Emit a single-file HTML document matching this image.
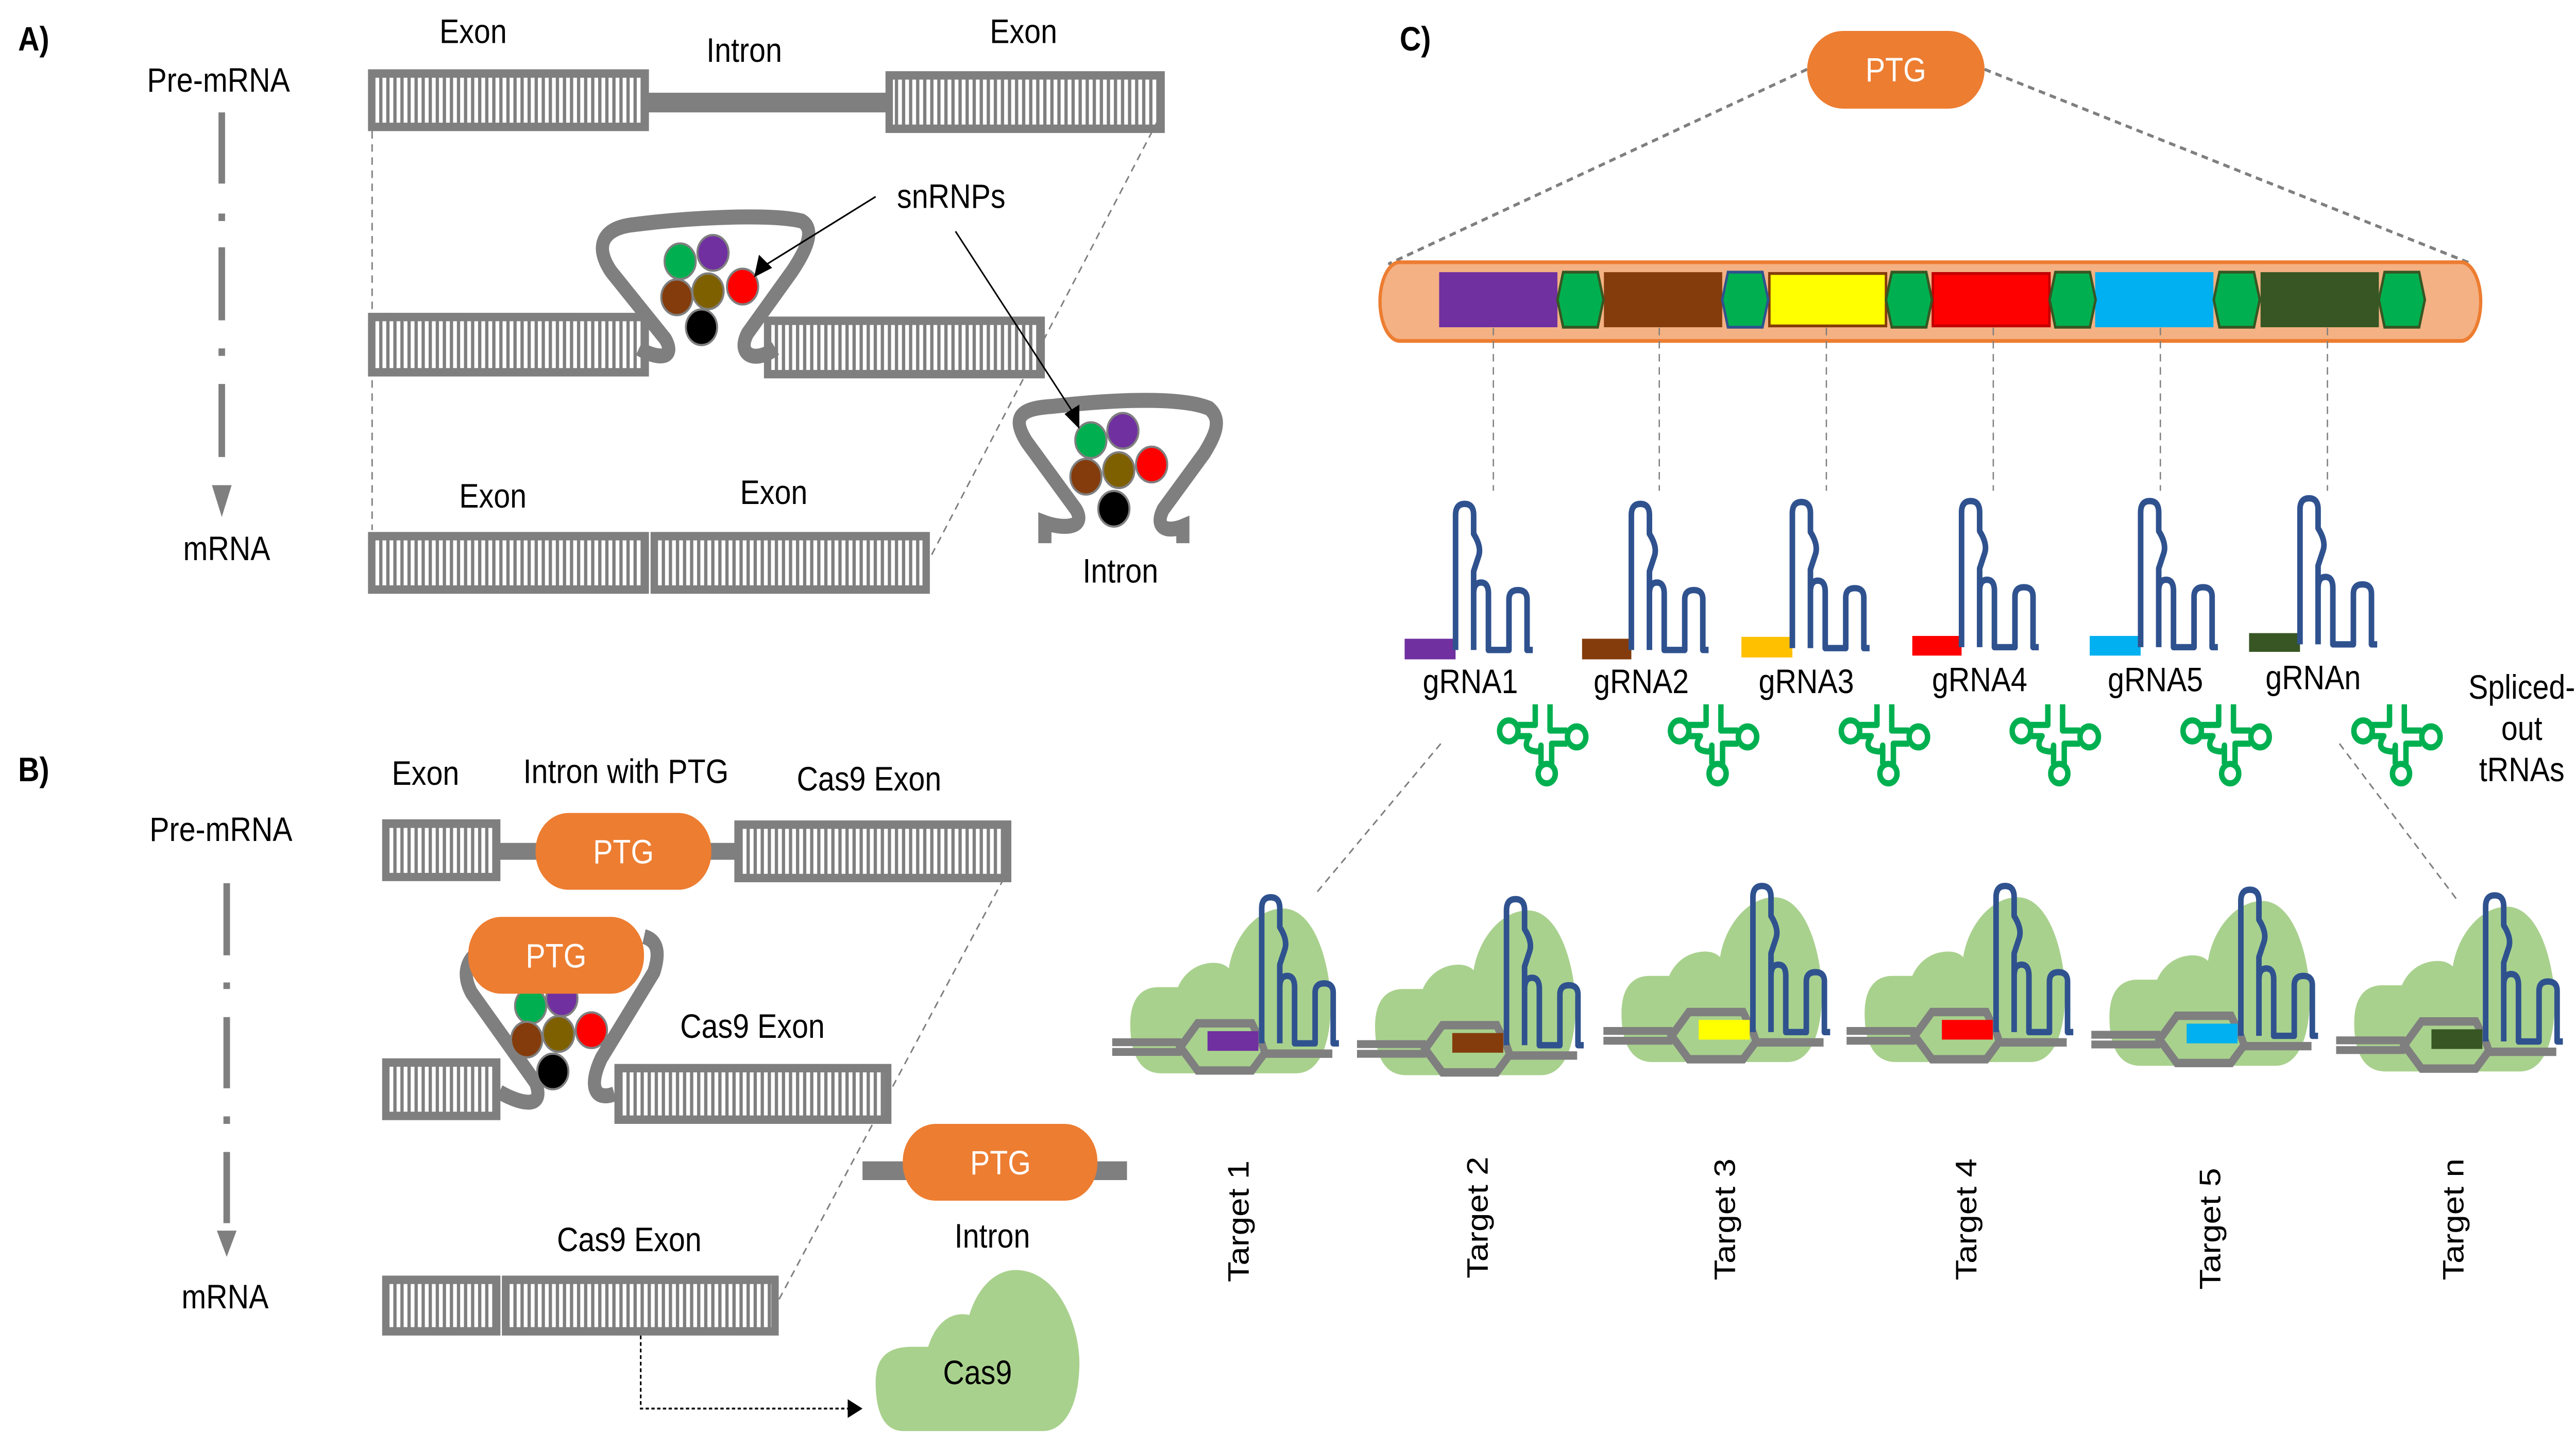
<!DOCTYPE html>
<html><head><meta charset="utf-8"><style>
html,body{margin:0;padding:0;background:#fff;width:100%;height:100%;overflow:hidden;}
svg{display:block;position:absolute;left:0;top:0;width:100vw;height:100vh;}
text{font-family:"Liberation Sans",Arial,sans-serif;}
</style></head><body>
<svg xmlns="http://www.w3.org/2000/svg" viewBox="0 0 1568 772.5" preserveAspectRatio="none">
<defs>
<pattern id="st" patternUnits="userSpaceOnUse" width="4.3" height="10"><rect width="4.3" height="10" fill="#7f7f7f"/><rect x="0.6" width="2.3" height="10" fill="#fff"/></pattern>
<g id="grna"><path d="M0,0 V-72 Q0,-78 5.5,-78 Q11,-78 11,-72 V-62 Q16,-55 14,-50 L11,-42 V0 M11,0 V-30 Q11,-36 15.5,-36 Q20,-36 20,-30 V0 H32.5 V-27 Q32.5,-32 38,-32 Q43.5,-32 43.5,-27 V0 H47" fill="none" stroke="#2f528f" stroke-width="3.4" stroke-linejoin="round"/></g>
<g id="cx">
<path d="M30,88 C15,88 11,75 11,62 C11,48 18,42 28,42 L40,42 C44,34 52,29 62,29 C67,29 70,31 71,32 C74,15 88,0 104,0 C125,0 134,35 133,55 C132,75 125,88 112,88 Z" fill="#a9d18e"/>
<line x1="0" y1="71.4" x2="42" y2="71.4" stroke="#7f7f7f" stroke-width="4.2"/>
<line x1="0" y1="76.6" x2="42" y2="76.6" stroke="#7f7f7f" stroke-width="4.2"/>
<polygon points="41.5,74 52,61.3 85,61.3 91,72 93,77 85,86.5 52,86.5" fill="none" stroke="#7f7f7f" stroke-width="4.5"/>
<line x1="92" y1="77.5" x2="134" y2="77.5" stroke="#7f7f7f" stroke-width="4.5"/>
</g>
<g id="trna" fill="none" stroke="#00b050" stroke-width="3.3" stroke-linejoin="round">
<path d="M-5.5,-22 V-11 H-16 M-16,-5 H-9 Q-14,2 -6,3 Q-2,4 -2,0 V10 M3.5,-22 V-8 H14 M14,-1 H4.5 V10"/>
<circle cx="-21.6" cy="-7.8" r="5.6"/><circle cx="19.7" cy="-4.6" r="5.6"/><circle cx="1.5" cy="15" r="5.2"/>
</g>
<g id="hx"><polygon points="0,14.7 3.5,0 24.5,0 28,14.7 24.5,29.4 3.5,29.4" fill="#00b050" stroke="#375623" stroke-width="1.5"/></g>
</defs>

<!-- ============ PANEL A ============ -->
<g font-size="18" text-anchor="middle" fill="#000">
<text x="11" y="27" font-weight="bold" text-anchor="start">A)</text>
<text x="288" y="23">Exon</text>
<text x="453" y="33">Intron</text>
<text x="623" y="23">Exon</text>
<text x="133" y="49">Pre-mRNA</text>
<text x="579" y="111">snRNPs</text>
<text x="300" y="271">Exon</text>
<text x="471" y="269">Exon</text>
<text x="138" y="299">mRNA</text>
<text x="682" y="311">Intron</text>
</g>
<g stroke="#7f7f7f" stroke-width="4">
<line x1="135" y1="60" x2="135" y2="98"/><line x1="135" y1="114" x2="135" y2="118"/>
<line x1="135" y1="132" x2="135" y2="171"/><line x1="135" y1="186" x2="135" y2="190"/>
<line x1="135" y1="205" x2="135" y2="244"/>
</g>
<polygon points="129,259 141,259 135,276" fill="#7f7f7f"/>
<rect x="390" y="49.5" width="152" height="10.5" fill="#7f7f7f"/>
<rect x="224" y="37" width="171" height="33" fill="#7f7f7f"/><rect x="228.5" y="41.5" width="162" height="24" fill="url(#st)"/>
<rect x="539" y="38" width="170" height="33" fill="#7f7f7f"/><rect x="543.5" y="42.5" width="161" height="24" fill="url(#st)"/>
<g stroke="#7f7f7f" stroke-width="0.9" stroke-dasharray="4 3" fill="none">
<line x1="226.5" y1="70" x2="226.5" y2="283"/>
<line x1="705" y1="64" x2="566" y2="298"/>
</g>
<rect x="224" y="167" width="171" height="34" fill="#7f7f7f"/><rect x="228.5" y="171.5" width="162" height="25" fill="url(#st)"/>
<rect x="465" y="169" width="171" height="33" fill="#7f7f7f"/><rect x="469.5" y="173.5" width="162" height="24" fill="url(#st)"/>
<path d="M389,186 C400,192 412,192 405,181 L372,145 C362,132 366,122 385,120 C420,116 470,114 488,118 C496,122 492,132 482,145 L455,178 C448,190 460,194 472,186" fill="none" stroke="#7f7f7f" stroke-width="8"/>
<g stroke="#7f7f7f" stroke-width="1.2">
<ellipse cx="434" cy="135" rx="9.5" ry="9.5" fill="#7030a0"/>
<ellipse cx="414" cy="139.5" rx="9.5" ry="9.5" fill="#00b050"/>
<ellipse cx="452" cy="153" rx="9.5" ry="9.5" fill="#ff0000"/>
<ellipse cx="412" cy="158.7" rx="9.5" ry="9.5" fill="#843c0c"/>
<ellipse cx="431" cy="155.5" rx="9.5" ry="9.5" fill="#7f6000"/>
<ellipse cx="427" cy="174.7" rx="9.5" ry="9.5" fill="#000"/>
</g>
<rect x="224" y="284" width="171" height="33" fill="#7f7f7f"/><rect x="228.5" y="288.5" width="162" height="24" fill="url(#st)"/>
<rect x="396" y="284" width="170" height="33" fill="#7f7f7f"/><rect x="400.5" y="288.5" width="161" height="24" fill="url(#st)"/>
<path d="M636,290 L636,279 C645,282 662,283 655,272 L625,236 C615,222 622,218 640,217 C680,213 720,212 736,218 C744,224 740,232 733,242 L708,272 C702,283 712,284 720,281 L720,290" fill="none" stroke="#7f7f7f" stroke-width="8"/>
<g stroke="#7f7f7f" stroke-width="1.2">
<ellipse cx="683.5" cy="230" rx="9.5" ry="9.5" fill="#7030a0"/>
<ellipse cx="664" cy="235" rx="9.5" ry="9.5" fill="#00b050"/>
<ellipse cx="701" cy="248" rx="9.5" ry="9.5" fill="#ff0000"/>
<ellipse cx="661" cy="254.5" rx="9.5" ry="9.5" fill="#843c0c"/>
<ellipse cx="681" cy="251" rx="9.5" ry="9.5" fill="#7f6000"/>
<ellipse cx="678" cy="271.6" rx="9.5" ry="9.5" fill="#000"/>
</g>
<line x1="533" y1="105" x2="465" y2="142" stroke="#000" stroke-width="0.9"/>
<polygon points="459,148 462,136 470,143" fill="#000"/>
<line x1="581.6" y1="123.5" x2="653" y2="220" stroke="#000" stroke-width="0.9"/>
<polygon points="657,229 648,221 657,216" fill="#000"/>

<!-- ============ PANEL B ============ -->
<g font-size="18" text-anchor="middle" fill="#000">
<text x="11" y="417" font-weight="bold" text-anchor="start">B)</text>
<text x="259" y="419">Exon</text>
<text x="381" y="418">Intron with PTG</text>
<text x="529" y="422">Cas9 Exon</text>
<text x="134.5" y="449">Pre-mRNA</text>
<text x="458" y="554">Cas9 Exon</text>
<text x="604" y="666">Intron</text>
<text x="383" y="668">Cas9 Exon</text>
<text x="137" y="698.5">mRNA</text>
</g>
<g stroke="#7f7f7f" stroke-width="4">
<line x1="138" y1="471.5" x2="138" y2="510"/><line x1="138" y1="524.5" x2="138" y2="528"/>
<line x1="138" y1="543" x2="138" y2="581"/><line x1="138" y1="596" x2="138" y2="600"/>
<line x1="138" y1="615" x2="138" y2="653"/>
</g>
<polygon points="132,657 144,657 138,671" fill="#7f7f7f"/>
<rect x="300" y="450" width="150" height="9" fill="#7f7f7f"/>
<rect x="232.6" y="437.4" width="72" height="33" fill="#7f7f7f"/><rect x="237" y="442" width="63" height="24" fill="url(#st)"/>
<rect x="447" y="438" width="168.6" height="33" fill="#7f7f7f"/><rect x="451.5" y="442.5" width="159.6" height="24" fill="url(#st)"/>
<rect x="326" y="434" width="107" height="41" rx="20" ry="20" fill="#ed7d31"/>
<text x="379.5" y="461" font-size="18" fill="#fff" text-anchor="middle">PTG</text>
<line x1="611" y1="469" x2="474" y2="694" stroke="#7f7f7f" stroke-width="0.9" stroke-dasharray="4 3"/>
<rect x="232.6" y="565" width="72" height="33" fill="#7f7f7f"/><rect x="237" y="569.5" width="63" height="24" fill="url(#st)"/>
<rect x="374" y="568" width="168.6" height="32" fill="#7f7f7f"/><rect x="378.5" y="572.5" width="159.6" height="23" fill="url(#st)"/>
<path d="M304,583 C318,590 332,592 326,578 L287,530 C281,520 284,512 292,508" fill="none" stroke="#7f7f7f" stroke-width="8"/>
<path d="M374,584 C362,588 358,580 366,565 L398,519 C402,508 400,502 392,500" fill="none" stroke="#7f7f7f" stroke-width="8"/>
<g stroke="#7f7f7f" stroke-width="1.2">
<ellipse cx="342" cy="533" rx="9.5" ry="9.5" fill="#7030a0"/>
<ellipse cx="323" cy="537" rx="9.5" ry="9.5" fill="#00b050"/>
<ellipse cx="360" cy="550" rx="9.5" ry="9.5" fill="#ff0000"/>
<ellipse cx="320.6" cy="555" rx="9.5" ry="9.5" fill="#843c0c"/>
<ellipse cx="340" cy="552" rx="9.5" ry="9.5" fill="#7f6000"/>
<ellipse cx="336.5" cy="572" rx="9.5" ry="9.5" fill="#000"/>
</g>
<rect x="285" y="489.5" width="107" height="41" rx="20" ry="20" fill="#ed7d31"/>
<text x="338.5" y="516.5" font-size="18" fill="#fff" text-anchor="middle">PTG</text>
<rect x="525" y="620" width="161" height="10" fill="#7f7f7f"/>
<rect x="549.5" y="600" width="118.5" height="41" rx="20" ry="20" fill="#ed7d31"/>
<text x="609" y="627" font-size="18" fill="#fff" text-anchor="middle">PTG</text>
<rect x="232.6" y="681" width="72" height="32" fill="#7f7f7f"/><rect x="237" y="685.5" width="63" height="23" fill="url(#st)"/>
<rect x="305.5" y="681" width="168.5" height="32" fill="#7f7f7f"/><rect x="310" y="685.5" width="159.5" height="23" fill="url(#st)"/>
<path d="M390,713 V752 H516" fill="none" stroke="#000" stroke-width="1" stroke-dasharray="2 1.5"/>
<polygon points="516,747 525,752 516,757" fill="#000"/>
<path d="M550,764 C536,764 533,750 533,738 C533,725 540,719 555,719 L565,719 C570,705 580,700 590,702 C596,685 608,678 618,678 C645,678 658,710 657,730 C656,755 645,764 635,764 Z" fill="#a9d18e"/>
<text x="595" y="739" font-size="18" text-anchor="middle">Cas9</text>

<!-- ============ PANEL C ============ -->
<text x="852" y="27" font-size="18" font-weight="bold">C)</text>
<g stroke="#7f7f7f" stroke-width="1.6" stroke-dasharray="4 3">
<line x1="1100" y1="37" x2="845" y2="141"/>
<line x1="1208" y1="37" x2="1505" y2="141"/>
</g>
<rect x="1100" y="16.5" width="108" height="41.5" rx="22" ry="21" fill="#ed7d31"/>
<text x="1154" y="43.5" font-size="18" fill="#fff" text-anchor="middle">PTG</text>
<rect x="840" y="140" width="670" height="42" rx="12" ry="21" fill="#f4b183" stroke="#ed7d31" stroke-width="2"/>
<rect x="876" y="145.3" width="72" height="29.4" fill="#7030a0"/>
<rect x="976.3" y="145.3" width="72" height="29.4" fill="#843c0c"/>
<rect x="1077" y="146" width="71" height="28" fill="#ffff00" stroke="#843c0c" stroke-width="1.5"/>
<rect x="1176.5" y="146" width="71" height="28" fill="#ff0000" stroke="#c00000" stroke-width="1.5"/>
<rect x="1275.3" y="145.3" width="72" height="29.4" fill="#00b0f0"/>
<rect x="1376" y="145.3" width="72" height="29.4" fill="#375623"/>
<use href="#hx" x="948" y="145.3"/>
<g transform="translate(1048.3,145.3)"><polygon points="0,14.7 3.5,0 24.5,0 28,14.7 24.5,29.4 3.5,29.4" fill="#00b050" stroke="#2f528f" stroke-width="1.5"/></g>
<use href="#hx" x="1148" y="145.3"/>
<use href="#hx" x="1247.6" y="145.3"/>
<use href="#hx" x="1347.5" y="145.3"/>
<use href="#hx" x="1448" y="145.3"/>
<g stroke="#7f7f7f" stroke-width="0.8" stroke-dasharray="4 3">
<line x1="909" y1="175" x2="909" y2="262"/>
<line x1="1010" y1="175" x2="1010" y2="262"/>
<line x1="1111.7" y1="175" x2="1111.7" y2="262"/>
<line x1="1213.3" y1="175" x2="1213.3" y2="262"/>
<line x1="1315" y1="175" x2="1315" y2="262"/>
<line x1="1416.7" y1="175" x2="1416.7" y2="262"/>
</g>
<rect x="855" y="341" width="31" height="11" fill="#7030a0"/><use href="#grna" x="886" y="347"/>
<rect x="963" y="341" width="30" height="11" fill="#843c0c"/><use href="#grna" x="993" y="347"/>
<rect x="1060" y="340" width="31" height="11" fill="#ffc000"/><use href="#grna" x="1091" y="346"/>
<rect x="1164" y="339.5" width="30" height="10.5" fill="#ff0000"/><use href="#grna" x="1194" y="345.5"/>
<rect x="1272" y="339.5" width="31" height="10.5" fill="#00b0f0"/><use href="#grna" x="1303" y="345.5"/>
<rect x="1369" y="338" width="31" height="10" fill="#375623"/><use href="#grna" x="1400" y="344"/>
<g font-size="18" text-anchor="middle">
<text x="895" y="370">gRNA1</text>
<text x="999" y="370">gRNA2</text>
<text x="1099.5" y="370">gRNA3</text>
<text x="1205" y="369">gRNA4</text>
<text x="1312" y="369">gRNA5</text>
<text x="1408" y="368">gRNAn</text>
<text x="1535" y="373">Spliced-</text>
<text x="1535" y="395">out</text>
<text x="1535" y="417">tRNAs</text>
</g>
<use href="#trna" x="940" y="398"/>
<use href="#trna" x="1044" y="398"/>
<use href="#trna" x="1148" y="398"/>
<use href="#trna" x="1252" y="398"/>
<use href="#trna" x="1356" y="398"/>
<use href="#trna" x="1460" y="398"/>
<g stroke="#7f7f7f" stroke-width="0.9" stroke-dasharray="4 3">
<line x1="877" y1="397" x2="800" y2="478"/>
<line x1="1424" y1="397" x2="1497" y2="482"/>
</g>
<g transform="translate(677,485)"><use href="#cx"/><rect x="58" y="65.5" width="31" height="10.5" fill="#7030a0"/><use href="#grna" x="91" y="72"/></g>
<g transform="translate(826,486)"><use href="#cx"/><rect x="58" y="65.5" width="31" height="10.5" fill="#843c0c"/><use href="#grna" x="91" y="72"/></g>
<g transform="translate(976,479)"><use href="#cx"/><rect x="58" y="65.5" width="31" height="10.5" fill="#ffff00"/><use href="#grna" x="91" y="72"/></g>
<g transform="translate(1124,479)"><use href="#cx"/><rect x="58" y="65.5" width="31" height="10.5" fill="#ff0000"/><use href="#grna" x="91" y="72"/></g>
<g transform="translate(1273,481)"><use href="#cx"/><rect x="58" y="65.5" width="31" height="10.5" fill="#00b0f0"/><use href="#grna" x="91" y="72"/></g>
<g transform="translate(1422,484)"><use href="#cx"/><rect x="58" y="65.5" width="31" height="10.5" fill="#375623"/><use href="#grna" x="91" y="72"/></g>
<g font-size="18" text-anchor="middle">
<text transform="translate(760,652) rotate(-90)">Target 1</text>
<text transform="translate(905.5,650) rotate(-90)">Target 2</text>
<text transform="translate(1056,651) rotate(-90)">Target 3</text>
<text transform="translate(1203,651) rotate(-90)">Target 4</text>
<text transform="translate(1351.5,656) rotate(-90)">Target 5</text>
<text transform="translate(1499.5,651) rotate(-90)">Target n</text>
</g>
</svg>
</body></html>
